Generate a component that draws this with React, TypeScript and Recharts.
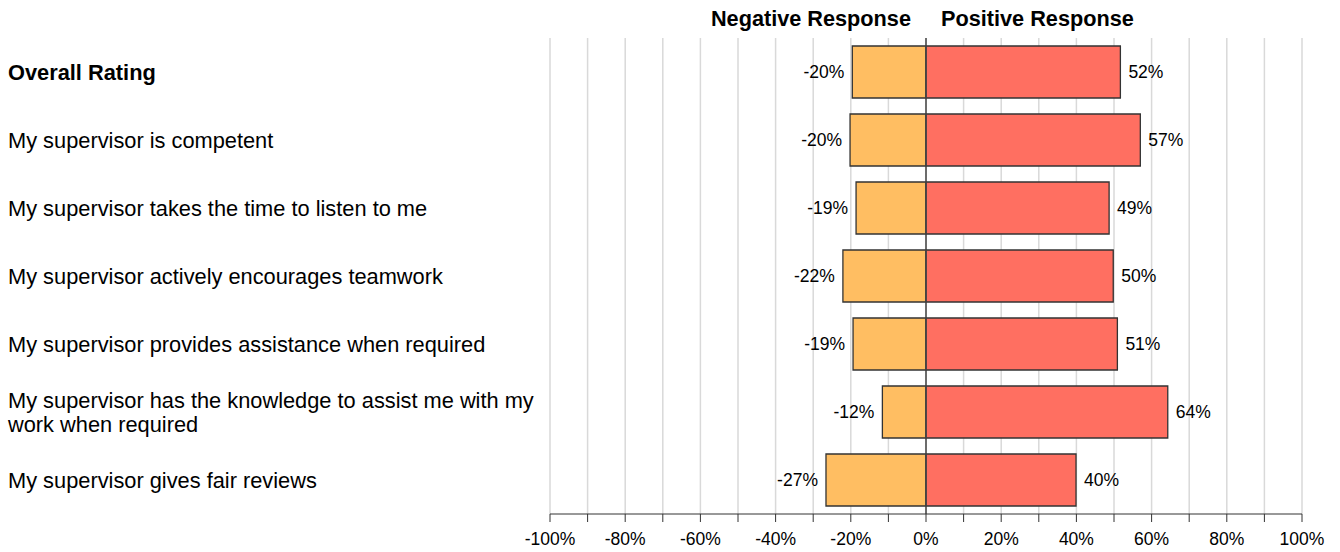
import {
  BarChart,
  Bar,
  XAxis,
  YAxis,
  CartesianGrid,
  ReferenceLine,
  LabelList,
} from "recharts";

const categories = [
  "Overall Rating",
  "My supervisor is competent",
  "My supervisor takes the time to listen to me",
  "My supervisor actively encourages teamwork",
  "My supervisor provides assistance when required",
  "My supervisor has the knowledge to assist me with my\nwork when required",
  "My supervisor gives fair reviews",
];
const negative = [-19.6, -20.2, -18.6, -22.1, -19.4, -11.6, -26.6];
const positive = [51.7, 57.0, 48.7, 49.8, 50.9, 64.3, 39.9];
const xTicks = [-100, -90, -80, -70, -60, -50, -40, -30, -20, -10, 0, 10, 20, 30, 40, 50, 60, 70, 80, 90, 100];

const FONT = '"Liberation Sans", Arial, sans-serif';

const rows = categories.map((name, i) => ({
  name,
  neg: negative[i],
  pos: positive[i],
}));

function CategoryTick(props: any) {
  const { y, payload } = props;
  const lines = String(payload.value).split("\n");
  const bold = payload.value === "Overall Rating";
  const lh = 24;
  const start = y - ((lines.length - 1) * lh) / 2;
  return (
    <text
      x={8}
      y={start}
      fontFamily={FONT}
      fontSize={21.8}
      fontWeight={bold ? 700 : 400}
      fill="#000"
      textAnchor="start"
    >
      {lines.map((l, k) => (
        <tspan key={k} x={8} y={start + k * lh} dy="0.36em">
          {l}
        </tspan>
      ))}
    </text>
  );
}

function NegLabel(props: any) {
  const { x, y, width, height, value } = props;
  const left = Math.min(x, x + width);
  return (
    <text x={left - 8} y={y + height / 2} dy="0.36em" textAnchor="end" fontFamily={FONT} fontSize={17.5} fill="#000">
      {`${Math.round(value)}%`}
    </text>
  );
}

function PosLabel(props: any) {
  const { x, y, width, height, value } = props;
  const right = Math.max(x, x + width);
  return (
    <text x={right + 8} y={y + height / 2} dy="0.36em" textAnchor="start" fontFamily={FONT} fontSize={17.5} fill="#000">
      {`${Math.round(value)}%`}
    </text>
  );
}

function Titles(props: any) {
  const { viewBox } = props;
  const x = viewBox.x;
  const y = viewBox.y - 12;
  return (
    <g fontFamily={FONT} fontSize={21.7} fontWeight={700} fill="#000">
      <text x={x - 15} y={y} textAnchor="end">Negative Response</text>
      <text x={x + 15} y={y} textAnchor="start">Positive Response</text>
    </g>
  );
}

export default function App() {
  return (
    <div style={{ width: 1340, height: 552, background: "#fff" }}>
      <style>{`body{margin:0}`}</style>
      <BarChart
        width={1340}
        height={552}
        data={rows}
        layout="vertical"
        stackOffset="sign"
        margin={{ top: 38, right: 38, bottom: 0, left: 0 }}
        barSize={52}
      >
        <CartesianGrid horizontal={false} stroke="#d9d9d9" strokeWidth={1.5} />
        <XAxis
          type="number"
          domain={[-100, 100]}
          ticks={xTicks}
          interval={0}
          height={38}
          tickSize={8}
          tickMargin={11}
          stroke="#333"
          tick={{ fill: "#000", fontSize: 17.5, fontFamily: FONT }}
          tickFormatter={(v: number) => (v % 20 === 0 ? `${v}%` : "")}
        />
        <YAxis
          type="category"
          dataKey="name"
          width={550}
          axisLine={false}
          tickLine={false}
          interval={0}
          tick={<CategoryTick />}
        />
        <Bar dataKey="neg" stackId="a" fill="#FFBE62" stroke="#333" strokeWidth={1.3} isAnimationActive={false}>
          <LabelList dataKey="neg" content={<NegLabel />} />
        </Bar>
        <Bar dataKey="pos" stackId="a" fill="#FF6F61" stroke="#333" strokeWidth={1.3} isAnimationActive={false}>
          <LabelList dataKey="pos" content={<PosLabel />} />
        </Bar>
        <ReferenceLine x={0} stroke="#444" strokeWidth={1.5} label={<Titles />} />
      </BarChart>
    </div>
  );
}
